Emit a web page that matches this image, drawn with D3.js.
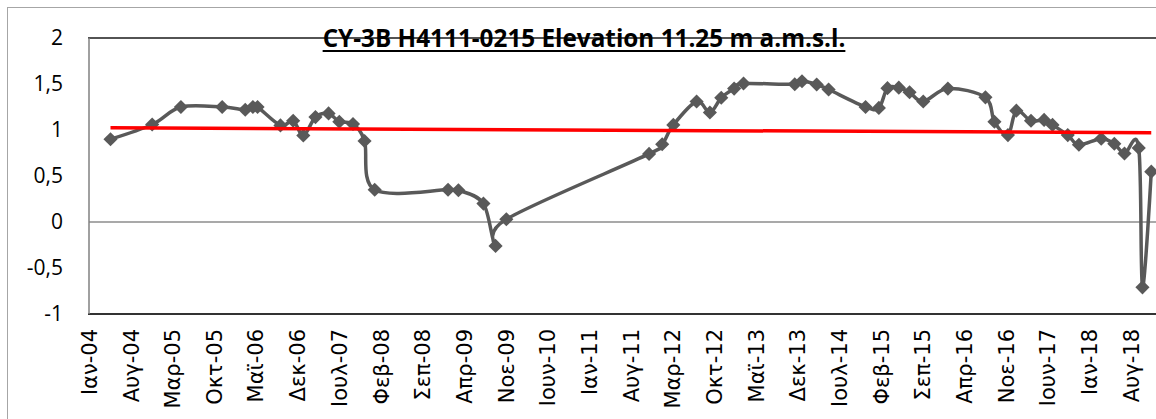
<!DOCTYPE html>
<html>
<head>
<meta charset="utf-8">
<script src="https://cdn.jsdelivr.net/npm/d3@7"></script>
<style>
	html, body { margin: 0; padding: 0; background: #ffffff; overflow: hidden; }
	svg { display: block; }
</style>
</head>
<body>
<script>

var dates = [
	'2004-04-20', '2004-11-19', '2005-04-15', '2005-11-12', '2006-03-10', '2006-04-18',
	'2006-05-12', '2006-09-06', '2006-11-10', '2007-01-01', '2007-03-04', '2007-05-10',
	'2007-07-04', '2007-09-12', '2007-11-10', '2008-01-01', '2009-01-10', '2009-03-04',
	'2009-07-10', '2009-09-10', '2009-11-04', '2011-11-04', '2012-01-10', '2012-03-07',
	'2012-07-04', '2012-09-10', '2012-11-07', '2013-01-12', '2013-03-01', '2013-11-18',
	'2013-12-25', '2014-03-10', '2014-05-10', '2014-11-15', '2015-01-22', '2015-03-07',
	'2015-05-04', '2015-06-28', '2015-09-06', '2016-01-10', '2016-07-20', '2016-09-04',
	'2016-11-12', '2016-12-25', '2017-03-10', '2017-05-16', '2017-06-28', '2017-09-14',
	'2017-11-10', '2018-03-04', '2018-05-10', '2018-07-01', '2018-09-12', '2018-10-01',
	'2018-11-15'
];

var levels = [
	0.90, 1.06, 1.25, 1.25, 1.22, 1.25,
	1.25, 1.05, 1.10, 0.94, 1.14, 1.18,
	1.09, 1.065, 0.88, 0.35, 0.35, 0.345,
	0.20, -0.26, 0.03, 0.74, 0.845, 1.055,
	1.31, 1.19, 1.35, 1.45, 1.505, 1.497,
	1.53, 1.495, 1.44, 1.25, 1.24, 1.455,
	1.46, 1.41, 1.31, 1.45, 1.355, 1.09,
	0.945, 1.21, 1.10, 1.11, 1.055, 0.945,
	0.84, 0.905, 0.85, 0.745, 0.805, -0.71,
	0.547
];

// linear trend, value at the first and at the last measurement
var trendValues = [ 1.025, 0.970 ];

var xTickLabels = [
	'Ιαν-04', 'Αυγ-04', 'Μαρ-05', 'Οκτ-05', 'Μαϊ-06', 'Δεκ-06', 'Ιουλ-07', 'Φεβ-08', 'Σεπ-08',
	'Απρ-09', 'Νοε-09', 'Ιουν-10', 'Ιαν-11', 'Αυγ-11', 'Μαρ-12', 'Οκτ-12', 'Μαϊ-13', 'Δεκ-13',
	'Ιουλ-14', 'Φεβ-15', 'Σεπ-15', 'Απρ-16', 'Νοε-16', 'Ιουν-17', 'Ιαν-18', 'Αυγ-18'
];

var yTicks = [ -1, -0.5, 0, 0.5, 1, 1.5, 2 ];

var title = 'CY-3B H4111-0215 Elevation 11.25 m a.m.s.l.';

var width = 1156;
var height = 419;

var font = "'Open Sans', 'DejaVu Sans', sans-serif";
var labelFont = "'DejaVu Sans', 'Open Sans', sans-serif";

var plot = {
	left: 89,
	top: 38,
	right: 1172,
	bottom: 314
};

var parseDate = d3.utcParse( '%Y-%m-%d' );

var data = dates.map( function ( d, i ) {
	return { x: parseDate( d ), y: levels[i] };
} );

var axisStart = parseDate( '2004-01-01' );
var axisEnd = parseDate( '2019-03-01' );

var scales = {};

scales.x = d3.scaleUtc()
	.domain( [ axisStart, axisEnd ] )
	.range( [ plot.left, plot.right ] );

scales.y = d3.scaleLinear()
	.domain( [ -1, 2 ] )
	.range( [ plot.bottom, plot.top ] );

var els = {};

els.svg = d3.select( 'body' ).append( 'svg' )
	.attr( 'width', width )
	.attr( 'height', height );

// chart area border (right/bottom edges fall outside the picture)
els.svg.append( 'rect' )
	.attr( 'x', 7.5 )
	.attr( 'y', 7.5 )
	.attr( 'width', 1300 )
	.attr( 'height', 600 )
	.attr( 'fill', '#ffffff' )
	.attr( 'stroke', '#a6a6a6' )
	.attr( 'stroke-width', 1 );

// zero line
els.svg.append( 'line' )
	.attr( 'x1', plot.left )
	.attr( 'x2', plot.right )
	.attr( 'y1', scales.y( 0 ) )
	.attr( 'y2', scales.y( 0 ) )
	.attr( 'stroke', '#8c8c8c' )
	.attr( 'stroke-width', 1.5 );

// plot frame lines
els.svg.append( 'line' )
	.attr( 'x1', plot.left - 1 )
	.attr( 'x2', plot.right )
	.attr( 'y1', plot.top )
	.attr( 'y2', plot.top )
	.attr( 'stroke', '#1a1a1a' )
	.attr( 'stroke-width', 1.5 );

els.svg.append( 'line' )
	.attr( 'x1', plot.left - 1 )
	.attr( 'x2', plot.right )
	.attr( 'y1', plot.bottom )
	.attr( 'y2', plot.bottom )
	.attr( 'stroke', '#333333' )
	.attr( 'stroke-width', 2 );

els.svg.append( 'line' )
	.attr( 'x1', plot.left )
	.attr( 'x2', plot.left )
	.attr( 'y1', plot.top )
	.attr( 'y2', plot.bottom )
	.attr( 'stroke', '#808080' )
	.attr( 'stroke-width', 1.5 );

// y axis
var yAxis = d3.axisLeft( scales.y )
	.tickValues( yTicks )
	.tickSize( 0 )
	.tickPadding( 26 )
	.tickFormat( function ( d ) { return String( d ).replace( '.', ',' ); } );

els.yAxis = els.svg.append( 'g' )
	.attr( 'transform', 'translate(' + plot.left + ',0)' )
	.call( yAxis );

els.yAxis.select( '.domain' ).remove();
els.yAxis.selectAll( 'text' )
	.attr( 'font-size', 21 )
	.attr( 'font-family', font )
	.attr( 'fill', '#000000' );

// x axis, one label every 7 months
var xTickValues = xTickLabels.map( function ( d, i ) {
	return d3.utcMonth.offset( axisStart, 7 * i );
} );

var xAxis = d3.axisBottom( scales.x )
	.tickValues( xTickValues )
	.tickSize( 0 )
	.tickFormat( function ( d, i ) { return xTickLabels[i]; } );

els.xAxis = els.svg.append( 'g' )
	.attr( 'transform', 'translate(0,' + plot.bottom + ')' )
	.call( xAxis );

els.xAxis.select( '.domain' ).remove();
els.xAxis.selectAll( 'text' )
	.attr( 'font-size', 21 )
	.attr( 'font-family', labelFont )
	.attr( 'fill', '#000000' )
	.attr( 'text-anchor', 'end' )
	.attr( 'dy', '0.36em' )
	.attr( 'y', 0 )
	.attr( 'transform', 'translate(0,15) rotate(-90)' );

// series line
var line = d3.line()
	.x( function ( d ) { return scales.x( d.x ); } )
	.y( function ( d ) { return scales.y( d.y ); } )
	.curve( d3.curveCardinal.tension( 0 ) );

els.svg.append( 'path' )
	.datum( data )
	.attr( 'd', line )
	.attr( 'fill', 'none' )
	.attr( 'stroke', '#595959' )
	.attr( 'stroke-width', 3.5 )
	.attr( 'stroke-linejoin', 'round' );

// diamonds
els.svg.append( 'g' ).selectAll( 'path' )
	.data( data )
	.enter()
	.append( 'path' )
	.attr( 'd', d3.symbol().type( d3.symbolSquare ).size( 100 ) )
	.attr( 'transform', function ( d ) {
		return 'translate(' + scales.x( d.x ) + ',' + scales.y( d.y ) + ') rotate(45)';
	} )
	.attr( 'fill', '#595959' );

// trend line
var trend = [
	{ x: data[0].x, y: trendValues[0] },
	{ x: data[data.length - 1].x, y: trendValues[1] }
];

els.svg.append( 'path' )
	.datum( trend )
	.attr( 'd', d3.line()
		.x( function ( d ) { return scales.x( d.x ); } )
		.y( function ( d ) { return scales.y( d.y ); } ) )
	.attr( 'stroke', '#ff0000' )
	.attr( 'stroke-width', 3.5 );

// title, drawn over the top frame line; sized to the span it takes in the original
els.title = els.svg.append( 'text' )
	.attr( 'x', 584 )
	.attr( 'y', 47 )
	.attr( 'text-anchor', 'middle' )
	.attr( 'font-family', font )
	.attr( 'font-weight', 'bold' )
	.attr( 'font-size', 20 )
	.text( title );

var titleLen = els.title.node().getComputedTextLength();
els.title.attr( 'font-size', 20 * 523 / titleLen );

var tb = els.title.node().getBBox();
els.svg.append( 'line' )
	.attr( 'x1', tb.x )
	.attr( 'x2', tb.x + tb.width )
	.attr( 'y1', 51 )
	.attr( 'y2', 51 )
	.attr( 'stroke', '#000000' )
	.attr( 'stroke-width', 2 );

</script>
</body>
</html>
